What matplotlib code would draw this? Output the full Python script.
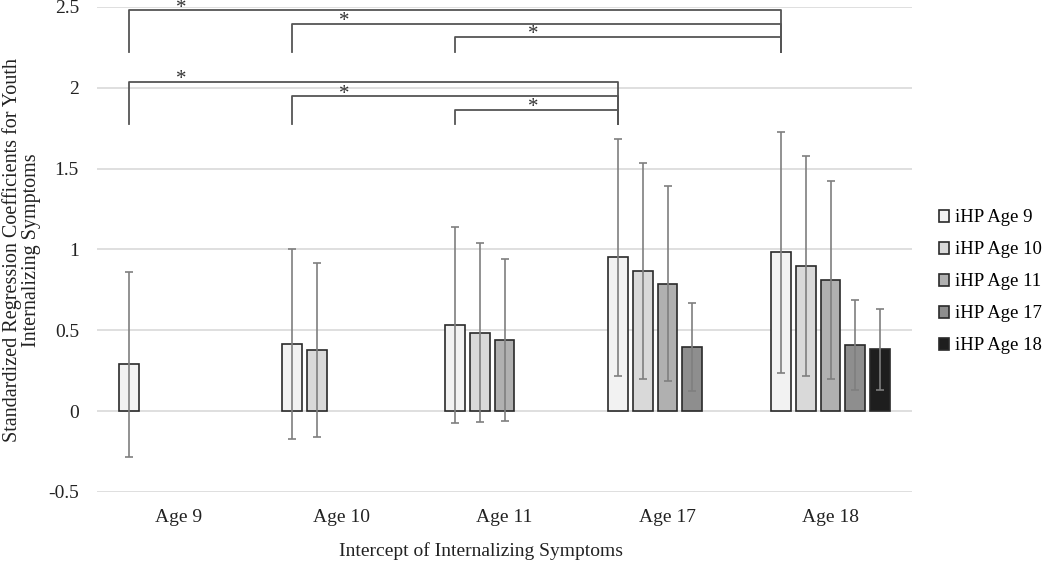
import numpy as np
import matplotlib.pyplot as plt

# Datos (NaN = sin barra)
grupos = ['Age 9', 'Age 10', 'Age 11', 'Age 17', 'Age 18']
series = ['iHP Age 9', 'iHP Age 10', 'iHP Age 11', 'iHP Age 17', 'iHP Age 18']
nan = np.nan

valores = np.array([
    [0.29, 0.415, 0.532, 0.955, 0.982],   # iHP Age 9
    [nan, 0.38, 0.485, 0.868, 0.897],     # iHP Age 10
    [nan, nan, 0.44, 0.788, 0.81],        # iHP Age 11
    [nan, nan, nan, 0.396, 0.408],        # iHP Age 17
    [nan, nan, nan, nan, 0.382],          # iHP Age 18
])
ic_sup = np.array([
    [0.862, 1.0, 1.14, 1.683, 1.727],
    [nan, 0.914, 1.04, 1.537, 1.576],
    [nan, nan, 0.94, 1.392, 1.423],
    [nan, nan, nan, 0.67, 0.687],
    [nan, nan, nan, nan, 0.631],
])
ic_inf = np.array([
    [-0.285, -0.173, -0.074, 0.218, 0.235],
    [nan, -0.157, -0.068, 0.202, 0.217],
    [nan, nan, -0.06, 0.186, 0.2],
    [nan, nan, nan, 0.122, 0.132],
    [nan, nan, nan, nan, 0.132],
])

# Comparaciones significativas: (grupo inicio, grupo fin, altura)
comparaciones = [(0, 4, 2.48), (1, 4, 2.395), (2, 4, 2.314),
                 (0, 3, 2.036), (1, 3, 1.949), (2, 3, 1.863)]
base_corchete = {4: 2.22, 3: 1.776}

colores = ['#f2f2f2', '#d9d9d9', '#b0b0b0', '#8e8e8e', '#1e1e1e']

plt.rcParams['font.family'] = ['Liberation Serif', 'DejaVu Serif']
fs = 14

fig = plt.figure(figsize=(10.5, 5.74), dpi=100)
ax = fig.add_axes([97 / 1050, 1 - 492 / 574, (912 - 97) / 1050, (492 - 7) / 574])

x = np.arange(len(grupos))
paso = 0.153
ancho = 0.122

for i, nombre in enumerate(series):
    pos = x + (i - 2) * paso
    v = valores[i]
    ok = ~np.isnan(v)
    ax.bar(pos[ok], v[ok], width=ancho, color=colores[i], edgecolor='#2a2a2a',
           linewidth=1.2, label=nombre, zorder=3)
    yerr = np.vstack([v[ok] - ic_inf[i][ok], ic_sup[i][ok] - v[ok]])
    ax.errorbar(pos[ok], v[ok], yerr=yerr, fmt='none', ecolor='#7f7f7f',
                elinewidth=1.2, capsize=3, capthick=1.2, zorder=4)

# Corchetes de significancia (entre las barras iHP Age 9 de cada grupo)
x_barra1 = x - 2 * paso
for g0, g1, h in comparaciones:
    b = base_corchete[g1]
    xa, xb = x_barra1[g0], x_barra1[g1]
    ax.plot([xa, xa, xb, xb], [b, h, h, b], color='#555555', lw=1.3,
            clip_on=False, zorder=5)
    xs = xa + 0.32 if g0 < 2 else xa + 0.48
    ax.text(xs, h - 0.015, '*', ha='center', va='baseline', fontsize=15,
            color='#333333', clip_on=False)

ax.set_xlim(-0.5, 4.5)
ax.set_ylim(-0.5, 2.5)
ax.set_yticks([-0.5, 0, 0.5, 1, 1.5, 2, 2.5])
ax.set_yticklabels(['-0.5', '0', '0.5', '1', '1.5', '2', '2.5'])
ax.set_xticks(x)
ax.set_xticklabels(grupos)
ax.tick_params(axis='both', length=0, labelsize=fs, colors='#222222')
ax.tick_params(axis='x', pad=12)
ax.tick_params(axis='y', pad=13)
ax.grid(True, axis='y', color='#d9d9d9', linewidth=1.2, zorder=0)
ax.set_axisbelow(True)
for s in ax.spines.values():
    s.set_visible(False)

fig.text(22 / 1050, 1 - 250 / 574,
         'Standardized Regression Coefficients for Youth\nInternalizing Symptoms',
         ha='center', va='center', rotation=90, fontsize=14.5, color='#222222',
         linespacing=1.0)
fig.text(481 / 1050, 1 - 551 / 574, 'Intercept of Internalizing Symptoms',
         ha='center', va='center', fontsize=fs, color='#222222')

leg = ax.legend(loc='center left', bbox_to_anchor=(1.012, 0.433), frameon=False,
                fontsize=13.5, handlelength=0.55, handleheight=0.55,
                handletextpad=0.3, labelspacing=0.8)

plt.savefig('out.png', dpi=100)
